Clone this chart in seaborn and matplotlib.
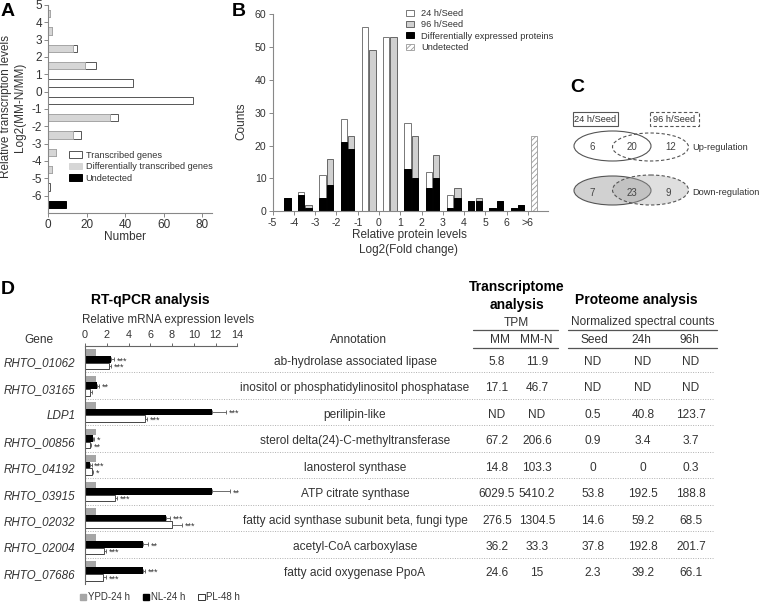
import numpy as np
import pandas as pd
import matplotlib
matplotlib.use('Agg')
import matplotlib.pyplot as plt
from matplotlib.patches import Patch, Ellipse, Rectangle
from matplotlib.lines import Line2D
import seaborn as sns

# ---------------- data ----------------
# Panel A: relative transcription levels (bin centres on log2 axis)
a_levels = [4.5, 3.5, 2.5, 1.5, 0.5, -0.5, -1.5, -2.5, -3.5, -4.5, -5.5, -6.5]
a_transcribed = [1, 2, 15, 25, 44, 75, 36, 17, 4, 2, 1, 0]
a_diff = [1, 2, 13, 19, 0, 0, 32, 13, 4, 2, 0, 0]
a_undetected = [0, 0, 0, 0, 0, 0, 0, 0, 0, 0, 0, 9]
a_yticks = [-6, -5, -4, -3, -2, -1, 0, 1, 2, 3, 4, 5]
a_xticks = [0, 20, 40, 60, 80]

# Panel B: protein level histograms (bins start at value)
b_bins = [-5, -4, -3, -2, -1, 0, 1, 2, 3, 4, 5, 6]
b_24_total = [0, 6, 11, 28, 56, 53, 27, 12, 5, 3, 1, 1]
b_24_dep = [0, 5, 4, 21, 0, 0, 13, 7, 1, 3, 1, 1]
b_96_total = [4, 2, 16, 23, 49, 53, 23, 17, 7, 4, 3, 2]
b_96_dep = [4, 1, 8, 19, 0, 0, 10, 10, 4, 3, 3, 2]
b_undetected = [23]
b_tick_labels = ['-5', '-4', '-3', '-2', '-1', '0', '1', '2', '3', '4', '5', '6', '>6']

# Panel C: overlap counts (24h only, both, 96h only)
c_up = [6, 20, 12]
c_down = [7, 23, 9]

# Panel D
genes = ['RHTO_01062', 'RHTO_03165', 'LDP1', 'RHTO_00856', 'RHTO_04192',
         'RHTO_03915', 'RHTO_02032', 'RHTO_02004', 'RHTO_07686']
d_ypd = [1.0, 1.0, 1.0, 1.0, 1.0, 1.0, 1.0, 1.0, 1.0]
d_nl = [2.4, 1.1, 11.7, 0.75, 0.5, 11.7, 7.4, 5.3, 5.35]
d_pl = [2.2, 0.5, 5.5, 0.45, 0.65, 2.75, 8.0, 1.75, 1.7]
d_nl_err = [0.3, 0.2, 1.3, 0.1, 0.1, 1.6, 0.4, 0.5, 0.2]
d_pl_err = [0.2, 0.1, 0.2, 0.1, 0.1, 0.2, 0.9, 0.2, 0.2]
d_nl_sig = ['***', '**', '***', '*', '***', '**', '***', '**', '***']
d_pl_sig = ['***', '', '***', '**', '*', '***', '***', '***', '***']
annotations = ['ab-hydrolase associated lipase',
               'inositol or phosphatidylinositol phosphatase',
               'perilipin-like',
               'sterol delta(24)-C-methyltransferase',
               'lanosterol synthase',
               'ATP citrate synthase',
               'fatty acid synthase subunit beta, fungi type',
               'acetyl-CoA carboxylase',
               'fatty acid oxygenase PpoA']
tpm_mm = ['5.8', '17.1', 'ND', '67.2', '14.8', '6029.5', '276.5', '36.2', '24.6']
tpm_mmn = ['11.9', '46.7', 'ND', '206.6', '103.3', '5410.2', '1304.5', '33.3', '15']
sc_seed = ['ND', 'ND', '0.5', '0.9', '0', '53.8', '14.6', '37.8', '2.3']
sc_24h = ['ND', 'ND', '40.8', '3.4', '0', '192.5', '59.2', '192.8', '39.2']
sc_96h = ['ND', 'ND', '123.7', '3.7', '0.3', '188.8', '68.5', '201.7', '66.1']
d_conditions = ['YPD-24 h', 'NL-24 h', 'PL-48 h']
d_xticks = [0, 2, 4, 6, 8, 10, 12, 14]

# ---------------- style ----------------
sns.set_theme(style='ticks')
plt.rcParams['font.family'] = ['Liberation Sans', 'DejaVu Sans']
plt.rcParams['hatch.linewidth'] = 0.6
TXT = '#333333'
SP = '#888888'

W, H = 760, 602
fig = plt.figure(figsize=(W / 100, H / 100), dpi=100)
fig.patch.set_facecolor('white')


def box(x0, y0, x1, y1):
    return [x0 / W, 1 - y1 / H, (x1 - x0) / W, (y1 - y0) / H]


def ftext(x, y, s, **kw):
    kw.setdefault('color', TXT)
    kw.setdefault('ha', 'center')
    kw.setdefault('va', 'center')
    fig.text(x / W, 1 - y / H, s, **kw)


def style_axis(ax, labelsize):
    for s in ['top', 'right']:
        ax.spines[s].set_visible(False)
    for s in ['left', 'bottom']:
        ax.spines[s].set_color(SP)
        ax.spines[s].set_linewidth(0.8)
    ax.tick_params(axis='both', labelsize=labelsize, length=3, width=0.7,
                   color=SP, labelcolor=TXT, pad=1.5)
    ax.set_xlabel('')
    ax.set_ylabel('')


# ---------------- Panel A ----------------
axA = fig.add_axes(box(48.3, 5, 212, 213))
dfA = pd.DataFrame({'level': a_levels, 'transcribed': a_transcribed,
                    'diff': a_diff, 'undet': a_undetected})
for col, fc, ec in [('transcribed', 'white', '#555555'),
                    ('diff', '#d6d6d6', '#a8a8a8'),
                    ('undet', 'black', 'black')]:
    d = dfA[dfA[col] > 0]
    sns.barplot(data=d, x=col, y='level', orient='h', native_scale=True,
                width=0.42, color=fc, edgecolor=ec, linewidth=0.7,
                saturation=1, errorbar=None, ax=axA)
axA.set_xlim(0, 85)
axA.set_ylim(-7, 5)
axA.set_yticks(a_yticks)
axA.set_yticklabels([str(v) for v in a_yticks])
axA.set_xticks(a_xticks)
axA.set_xticklabels([str(v) for v in a_xticks])
style_axis(axA, 8.5)
axA.patch.set_alpha(0)
ftext(13, 107, 'Relative transcription levels\nLog2(MM-N/MM)', rotation=90,
      fontsize=8.5, linespacing=1.15)
ftext(125, 237, 'Number', fontsize=8.5)
legA = axA.legend(handles=[Patch(facecolor='white', edgecolor='#555555', lw=0.7),
                           Patch(facecolor='#d6d6d6', edgecolor='#d6d6d6', lw=0.7),
                           Patch(facecolor='black', edgecolor='black', lw=0.7)],
                  labels=['Transcribed genes', 'Differentially transcribed genes', 'Undetected'],
                  loc='upper left', bbox_to_anchor=(69 / W, 1 - 150.5 / H),
                  bbox_transform=fig.transFigure, frameon=False, fontsize=6.6,
                  handlelength=1.4, handleheight=0.75, handletextpad=0.4,
                  labelspacing=0.28, borderpad=0, borderaxespad=0)
for t in legA.get_texts():
    t.set_color(TXT)

# ---------------- Panel B ----------------
axB = fig.add_axes(box(272.7, 14, 548, 211.3))
dfB = pd.DataFrame({'bin': b_bins, 't24': b_24_total, 'd24': b_24_dep,
                    't96': b_96_total, 'd96': b_96_dep})
dfB['x24'] = dfB['bin'] + 0.34
dfB['x96'] = dfB['bin'] + 0.69
for xcol, col, fc, ec in [('x24', 't24', 'white', '#777777'),
                          ('x24', 'd24', 'black', 'black'),
                          ('x96', 't96', '#d0d0d0', '#666666'),
                          ('x96', 'd96', 'black', 'black')]:
    d = dfB[dfB[col] > 0]
    sns.barplot(data=d, x=xcol, y=col, native_scale=True, width=0.3,
                color=fc, edgecolor=ec, linewidth=0.7, saturation=1,
                errorbar=None, ax=axB)
dfBu = pd.DataFrame({'pos': [7.3], 'count': b_undetected})
sns.barplot(data=dfBu, x='pos', y='count', native_scale=True, width=0.31,
            color='white', edgecolor='#999999', hatch='//////', linewidth=0.6,
            saturation=1, errorbar=None, ax=axB)
axB.set_xlim(-5, 7.95)
axB.set_ylim(0, 60)
axB.set_yticks([0, 10, 20, 30, 40, 50, 60])
axB.set_xticks(list(range(-5, 8)))
axB.set_xticklabels(b_tick_labels)
style_axis(axB, 7.6)
axB.patch.set_alpha(0)
ftext(241.5, 121, 'Counts', rotation=90, fontsize=8.5)
ftext(409, 235, 'Relative protein levels', fontsize=8.5)
ftext(409, 249.5, 'Log2(Fold change)', fontsize=8.5)
legB = axB.legend(handles=[Patch(facecolor='white', edgecolor='#777777', lw=0.7),
                           Patch(facecolor='#d0d0d0', edgecolor='#666666', lw=0.7),
                           Patch(facecolor='black', edgecolor='black', lw=0.7),
                           Patch(facecolor='white', edgecolor='#999999', hatch='//////', lw=0.6)],
                  labels=['24 h/Seed', '96 h/Seed', 'Differentially expressed proteins', 'Undetected'],
                  loc='upper left', bbox_to_anchor=(406 / W, 1 - 9 / H),
                  bbox_transform=fig.transFigure, frameon=False, fontsize=6.7,
                  handlelength=0.9, handleheight=0.6, handletextpad=0.7,
                  labelspacing=0.25, borderpad=0, borderaxespad=0)
for t in legB.get_texts():
    t.set_color(TXT)

# ---------------- Panel C ----------------
axC = fig.add_axes(box(560, 100, 760, 215))
axC.set_xlim(560, 760)
axC.set_ylim(215, 100)
axC.axis('off')
axC.add_patch(Rectangle((573, 112), 45, 14, facecolor='white', edgecolor='#555555', lw=0.8))
axC.add_patch(Rectangle((650, 112), 49, 14, facecolor='white', edgecolor='#555555', lw=0.8, ls=(0, (3, 2))))
axC.text(595.5, 119.5, '24 h/Seed', ha='center', va='center', fontsize=6.7, color=TXT)
axC.text(674.5, 119.5, '96 h/Seed', ha='center', va='center', fontsize=6.7, color=TXT)
# up-regulation
axC.add_patch(Ellipse((612.5, 146), 77, 30, facecolor='white', edgecolor='#555555', lw=0.8))
axC.add_patch(Ellipse((650.5, 147), 76, 28, facecolor='none', edgecolor='#555555', lw=0.8, ls=(0, (3, 2))))
# down-regulation
axC.add_patch(Ellipse((612.5, 190.5), 77, 29, facecolor=(0.55, 0.55, 0.55, 0.4), edgecolor='#555555', lw=0.8))
axC.add_patch(Ellipse((650.5, 190), 76, 30, facecolor=(0.65, 0.65, 0.65, 0.35), edgecolor='#555555', lw=0.8, ls=(0, (3, 2))))
for xx, v in zip([592, 631.5, 671], c_up):
    axC.text(xx, 147.5, str(v), ha='center', va='center', fontsize=7, color='#444444')
for xx, v in zip([592, 631.5, 668], c_down):
    axC.text(xx, 192.5, str(v), ha='center', va='center', fontsize=7, color='#444444')
axC.text(692, 147.5, 'Up-regulation', ha='left', va='center', fontsize=6.7, color=TXT)
axC.text(692, 192.5, 'Down-regulation', ha='left', va='center', fontsize=6.7, color=TXT)

# ---------------- Panel D ----------------
ROW_TOP, ROW_BOT = 346, 584
TXT_OFF = 0.1   # text sits slightly below the row centre
tax = fig.add_axes(box(0, ROW_TOP, W, ROW_BOT))
tax.set_xlim(0, W)
tax.set_ylim(len(genes) - 0.5, -0.5)
tax.axis('off')
tax.patch.set_alpha(0)
for i in range(len(genes)):
    tax.plot([85, 713], [i + 0.5, i + 0.5], ls=(0, (1, 1.5)), color='#b0b0b0', lw=0.7)
    tax.text(355, i + TXT_OFF, annotations[i], ha='center', va='center', fontsize=8.6, color=TXT)
    for xx, col in zip([497, 537, 593, 643, 691], [tpm_mm, tpm_mmn, sc_seed, sc_24h, sc_96h]):
        tax.text(xx, i + TXT_OFF, col[i], ha='center', va='center', fontsize=8.6, color=TXT)

axD = fig.add_axes(box(85, ROW_TOP, 237.3, ROW_BOT))
dfD = pd.DataFrame({'gene': genes * 3,
                    'value': d_ypd + d_nl + d_pl,
                    'cond': [d_conditions[0]] * 9 + [d_conditions[1]] * 9 + [d_conditions[2]] * 9})
palD = {d_conditions[0]: '#a6a6a6', d_conditions[1]: 'black', d_conditions[2]: 'white'}
sns.barplot(data=dfD, x='value', y='gene', hue='cond', orient='h', palette=palD,
            hue_order=d_conditions, width=0.75, saturation=1, errorbar=None,
            legend=False, linewidth=0, ax=axD)
for p in axD.containers[2]:
    p.set_edgecolor('#444444')
    p.set_linewidth(0.7)
for cont, vals, errs, sigs in [(axD.containers[1], d_nl, d_nl_err, d_nl_sig),
                               (axD.containers[2], d_pl, d_pl_err, d_pl_sig)]:
    for p, v, e, s in zip(cont, vals, errs, sigs):
        yc = p.get_y() + p.get_height() / 2
        axD.errorbar([v], [yc], xerr=[[0], [e]], fmt='none', ecolor='#555555',
                     elinewidth=0.6, capsize=1.5, capthick=0.6, clip_on=False)
        if s:
            axD.text(v + e + 0.25, yc + 0.06, s, ha='left', va='center',
                     fontsize=6.5, color=TXT, clip_on=False)
axD.set_xlim(0, 14)
axD.set_ylim(len(genes) - 0.5, -0.5)
axD.xaxis.tick_top()
axD.set_xticks(d_xticks)
axD.set_xticklabels([str(v) for v in d_xticks])
axD.set_yticks([i + TXT_OFF for i in range(len(genes))])
axD.set_yticklabels(genes)
for s in ['right', 'bottom']:
    axD.spines[s].set_visible(False)
for s in ['top', 'left']:
    axD.spines[s].set_color('#666666')
    axD.spines[s].set_linewidth(0.8)
axD.tick_params(axis='x', labelsize=7.8, length=2.5, width=0.7, color='#666666',
                labelcolor=TXT, pad=1.5)
axD.tick_params(axis='y', labelsize=8.4, length=0, pad=7, labelcolor=TXT)
for t in axD.get_yticklabels():
    t.set_fontstyle('italic')
axD.set_xlabel('')
axD.set_ylabel('')
axD.patch.set_alpha(0)

# headers
ftext(150.7, 300, 'RT-qPCR analysis', fontsize=10, fontweight='bold', color='black')
ftext(168, 320.5, 'Relative mRNA expression levels', fontsize=8.4)
ftext(39, 340, 'Gene', fontsize=8.6)
ftext(358, 340, 'Annotation', fontsize=8.6)
ftext(516.7, 287, 'Transcriptome', fontsize=10, fontweight='bold', color='black')
ftext(517.5, 305, 'analysis', fontsize=10, fontweight='bold', color='black')
ftext(636, 300, 'Proteome analysis', fontsize=10, fontweight='bold', color='black')
ftext(516.7, 322.5, 'TPM', fontsize=8.6)
ftext(643, 322.5, 'Normalized spectral counts', fontsize=8.6)
for xx, s in zip([500, 536, 594, 641, 689], ['MM', 'MM-N', 'Seed', '24h', '96h']):
    ftext(xx, 340, s, fontsize=8.6)
for yy in [330, 347.7]:
    fig.add_artist(Line2D([473 / W, 558 / W], [1 - yy / H, 1 - yy / H], color='#555555', lw=0.9))
    fig.add_artist(Line2D([568 / W, 717 / W], [1 - yy / H, 1 - yy / H], color='#555555', lw=0.9))

legD = fig.legend(handles=[Patch(facecolor='#a6a6a6', edgecolor='#a6a6a6'),
                           Patch(facecolor='black', edgecolor='black'),
                           Patch(facecolor='white', edgecolor='#333333', lw=0.7)],
                  labels=d_conditions, loc='center left',
                  bbox_to_anchor=(80 / W, 1 - 597.5 / H), ncol=3, frameon=False,
                  fontsize=7, handlelength=0.65, handleheight=0.65, handletextpad=0.15,
                  columnspacing=1.35, borderaxespad=0, borderpad=0)
for t in legD.get_texts():
    t.set_color(TXT)

# panel letters
for xx, yy, s in [(8, 12, 'A'), (239, 12, 'B'), (577.5, 88, 'C'), (8, 289, 'D')]:
    ftext(xx, yy, s, fontsize=14, fontweight='bold', color='black')

fig.savefig('out.png', dpi=100)
